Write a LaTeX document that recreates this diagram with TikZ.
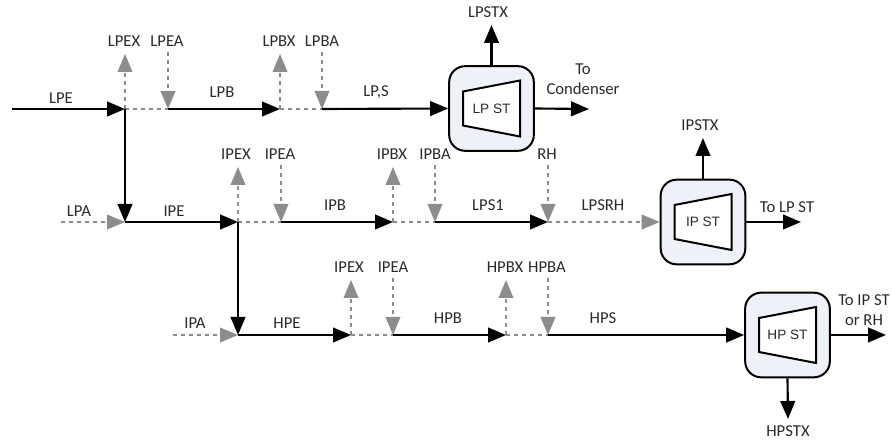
\documentclass[tikz,border=0pt]{standalone}
\usepackage{fontspec}
\setmainfont{Carlito}
\newfontfamily\stfont{Liberation Sans}
\usetikzlibrary{arrows.meta,calc}
\definecolor{txt}{HTML}{2A2A2A}
\definecolor{flowgray}{HTML}{8C8C8C}
\definecolor{boxfill}{HTML}{EEF1F7}
\tikzset{
  lbl/.style={text=txt,font=\fontsize{12.5pt}{15.3pt}\selectfont,inner sep=0pt,align=center},
  main/.style={draw=black,line width=1.6pt,-{Triangle[length=13.5pt,width=11pt]}},
  aux/.style={draw=flowgray,line width=1.2pt,dash pattern=on 3pt off 3pt,-{Triangle[length=13.5pt,width=11pt]}},
  auxline/.style={draw=flowgray,line width=1.2pt,dash pattern=on 3pt off 3pt},
  casing/.style={draw=black,line width=1.5pt,fill=boxfill,rounded corners=12pt,minimum width=63.5pt,minimum height=63.5pt,inner sep=0pt},
  blade/.style={draw=black,line width=1.5pt,fill=white,line join=miter},
  st/.style={text=txt,inner sep=0pt,font=\stfont\fontsize{10.2pt}{12pt}\selectfont}
}
\newcommand{\turbine}[4]{%
  \node[casing] (#1) at (#2,#3) {};
  \draw[blade] ($(#1.center)+(-28.5,-17)$) -- ($(#1.center)+(28.5,-28)$) -- ($(#1.center)+(28.5,28)$) -- ($(#1.center)+(-28.5,17)$) -- cycle;
  \node[st] (#1t) at (#2,#3) {#4};
}
\begin{document}
\begin{tikzpicture}[x=0.75pt,y=-0.75pt]
\useasboundingbox[fill=white] (0,0) rectangle (892,441);
% junctions, row 1
\coordinate (s1) at (12,109);
\coordinate (j1a) at (125,109);
\coordinate (j1b) at (168,109);
\coordinate (j1c) at (280,109);
\coordinate (j1d) at (322,109);
% row 2
\coordinate (s2) at (61,222);
\coordinate (j2o) at (125,222);
\coordinate (j2a) at (238,222);
\coordinate (j2b) at (281,222);
\coordinate (j2c) at (393,222);
\coordinate (j2d) at (435,222);
\coordinate (j2e) at (548,222);
% row 3
\coordinate (s3) at (173,335);
\coordinate (j3o) at (238,335);
\coordinate (j3a) at (351,335);
\coordinate (j3b) at (393,335);
\coordinate (j3c) at (506,335);
\coordinate (j3d) at (548,335);
% free ends of the side streams
\coordinate (x1a) at (125,54);
\coordinate (a1b) at (168,52);
\coordinate (x1c) at (280,54);
\coordinate (a1d) at (322,52);
\coordinate (x2a) at (238,167);
\coordinate (a2b) at (281,165);
\coordinate (x2c) at (393,167);
\coordinate (a2d) at (435,165);
\coordinate (a2e) at (548,165);
\coordinate (x3a) at (351,280);
\coordinate (a3b) at (393,278);
\coordinate (x3c) at (506,280);
\coordinate (a3d) at (548,278);
\coordinate (lpx) at (491.5,25);
\coordinate (lpo) at (589,109);
\coordinate (ipx) at (703,138);
\coordinate (ipo) at (801,222);
\coordinate (hpx) at (788,419);
\coordinate (hpo) at (886,335);
% turbines
\turbine{lp}{491.5}{108.5}{LP ST}
\turbine{ip}{703}{222}{IP ST}
\turbine{hp}{787.5}{335}{HP ST}
% dotted links
\draw[auxline] (j1a) -- (j1b);
\draw[auxline] (j1c) -- (j1d);
\draw[auxline] (j2a) -- (j2b);
\draw[auxline] (j2c) -- (j2d);
\draw[auxline] (j3a) -- (j3b);
\draw[auxline] (j3c) -- (j3d);
% dotted arrows
\draw[aux] (j1a) -- (x1a);
\draw[aux] (a1b) -- (j1b);
\draw[aux] (j1c) -- (x1c);
\draw[aux] (a1d) -- (j1d);
\draw[aux] (s2) -- (j2o);
\draw[aux] (j2a) -- (x2a);
\draw[aux] (a2b) -- (j2b);
\draw[aux] (j2c) -- (x2c);
\draw[aux] (a2d) -- (j2d);
\draw[aux] (a2e) -- (j2e);
\draw[aux] (j2e) -- (ip.west);
\draw[aux] (s3) -- (j3o);
\draw[aux] (j3a) -- (x3a);
\draw[aux] (a3b) -- (j3b);
\draw[aux] (j3c) -- (x3c);
\draw[aux] (a3d) -- (j3d);
% solid arrows
\draw[main] (s1) -- (j1a);
\draw[main] (j1a) -- (j2o);
\draw[main] (j1b) -- (j1c);
\draw[main] (j1d) -- (lp.west);
\draw[main] (j2o) -- (j2a);
\draw[main] (j2a) -- (j3o);
\draw[main] (j2b) -- (j2c);
\draw[main] (j2d) -- (j2e);
\draw[main] (j3o) -- (j3a);
\draw[main] (j3b) -- (j3c);
\draw[main] (j3d) -- (hp.west);
\draw[main] (lp.north) -- (lpx);
\draw[main] (lp.east) -- (lpo);
\draw[main] (ip.north) -- (ipx);
\draw[main] (ip.east) -- (ipo);
\draw[main] (hp.south) -- (hpx);
\draw[main] (hp.east) -- (hpo);
% labels
\node[lbl] (t1) at (124,41) {LPEX};
\node[lbl] (t2) at (167,41) {LPEA};
\node[lbl] (t3) at (279,41) {LPBX};
\node[lbl] (t4) at (322,41) {LPBA};
\node[lbl] (t5) at (61,98) {LPE};
\node[lbl] (t6) at (222,92) {LPB};
\node[lbl] (t7) at (376,92) {LP,S};
\node[lbl] (t8) at (488,12) {LPSTX};
\node[lbl] (t9) at (583,79) {To\\Condenser};
\node[lbl] (t10) at (79,211) {LPA};
\node[lbl] (t11) at (174,211) {IPE};
\node[lbl] (t12) at (236,154) {IPEX};
\node[lbl] (t13) at (280,154) {IPEA};
\node[lbl] (t14) at (335,205) {IPB};
\node[lbl] (t15) at (392,154) {IPBX};
\node[lbl] (t16) at (435,154) {IPBA};
\node[lbl] (t17) at (488,205) {LPS1};
\node[lbl] (t18) at (547,154) {RH};
\node[lbl] (t19) at (603,205) {LPSRH};
\node[lbl] (t20) at (700,125) {IPSTX};
\node[lbl] (t21) at (787,207) {To LP ST};
\node[lbl] (t22) at (195,323) {IPA};
\node[lbl] (t23) at (287,323) {HPE};
\node[lbl] (t24) at (349,267) {IPEX};
\node[lbl] (t25) at (393,267) {IPEA};
\node[lbl] (t26) at (448,318) {HPB};
\node[lbl] (t27) at (505,267) {HPBX};
\node[lbl] (t28) at (547,267) {HPBA};
\node[lbl] (t29) at (603,318) {HPS};
\node[lbl] (t30) at (864,310) {To IP ST\\or RH};
\node[lbl] (t31) at (788,431) {HPSTX};
\end{tikzpicture}
\end{document}
